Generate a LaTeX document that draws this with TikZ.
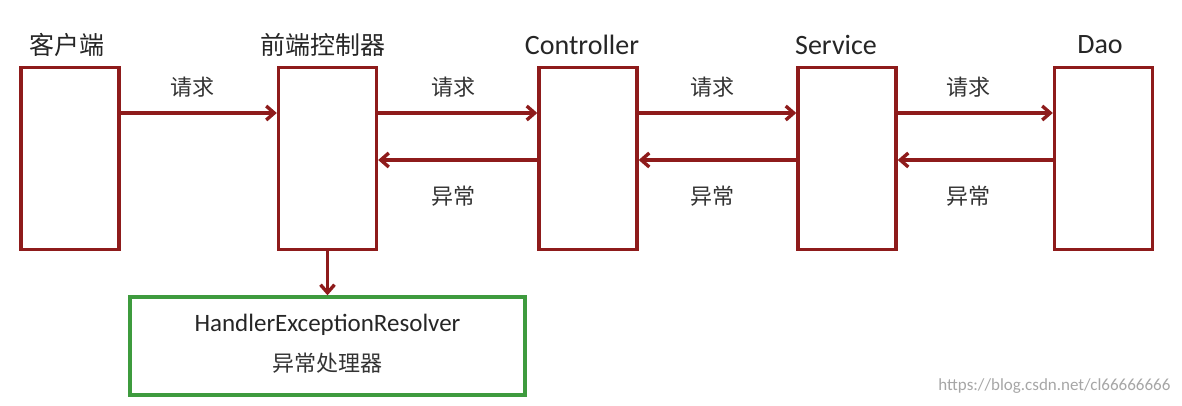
\documentclass[tikz,border=0pt]{standalone}
\usepackage{fontspec}
\setmainfont{Carlito}
\newfontfamily\cjk{Noto Sans CJK SC}
\usetikzlibrary{arrows.meta}
\definecolor{dred}{HTML}{8E1B1B}
\definecolor{dgreen}{HTML}{3E9B3E}
\begin{document}
\begin{tikzpicture}[x=1pt,y=-1pt,
  box/.style={draw=dred,line width=3.4pt,minimum width=98pt,minimum height=182pt,inner sep=0pt},
  conn/.style={draw=dred,line width=3.4pt,-{Straight Barb[length=8pt,width=14pt]}},
  lbl/.style={font=\fontsize{22}{26}\selectfont\cjk,text=black!80},
  ttl/.style={font=\fontsize{28}{32}\selectfont,text=black!85}]
\useasboundingbox (0,0) rectangle (1182,406);
\node[box] (c) at (70,158.5) {};
\node[box] (f) at (327.5,158.5) {};
\node[box] (ct) at (588,158.5) {};
\node[box] (s) at (847,158.5) {};
\node[box] (d) at (1103.5,158.5) {};
\node[ttl,font=\fontsize{25}{28}\selectfont\cjk] (tc) at (67,45) {客户端};
\node[ttl,font=\fontsize{25}{28}\selectfont\cjk] (tf) at (323,45) {前端控制器};
\node[ttl] (tct) at (582,45) {Controller};
\node[ttl] (ts) at (836,45) {Service};
\node[ttl] (td) at (1100,45) {Dao};
\node[draw=dgreen,line width=3.4pt,minimum width=395pt,minimum height=98pt,inner sep=0pt,align=center] (h) at (327.5,346) {};
\node[ttl,font=\fontsize{25}{28}\selectfont] (ht) at (327.5,325) {HandlerExceptionResolver};
\node[lbl] (hc) at (327.5,363) {异常处理器};
\draw[conn] (c.east|-0,113) -- (f.west|-0,113);
\draw[conn] (f.east|-0,113) -- (ct.west|-0,113);
\draw[conn] (ct.east|-0,113) -- (s.west|-0,113);
\draw[conn] (s.east|-0,113) -- (d.west|-0,113);
\draw[conn] (d.west|-0,160) -- (s.east|-0,160);
\draw[conn] (s.west|-0,160) -- (ct.east|-0,160);
\draw[conn] (ct.west|-0,160) -- (f.east|-0,160);
\draw[conn] (f.south) -- (h.north);
\node[lbl] (q1) at (192,87) {请求};
\node[lbl] (q2) at (453,87) {请求};
\node[lbl] (q3) at (712,87) {请求};
\node[lbl] (q4) at (968,87) {请求};
\node[lbl] (e1) at (453,196) {异常};
\node[lbl] (e2) at (712,196) {异常};
\node[lbl] (e3) at (968,196) {异常};
\node[font=\fontsize{17}{20}\selectfont,text=black!35,anchor=east] (wm) at (1174,386) {https://blog.csdn.net/cl66666666};
\end{tikzpicture}
\end{document}
